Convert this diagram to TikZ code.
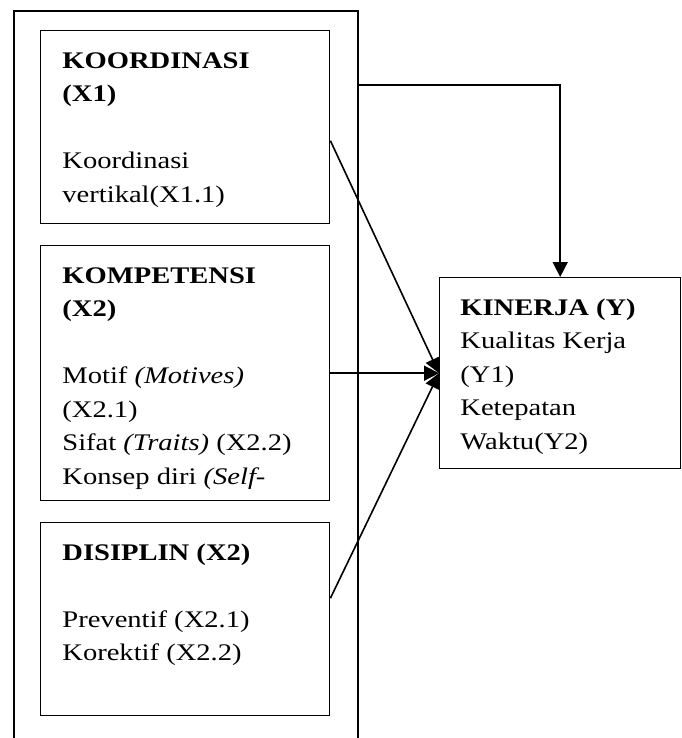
\documentclass[tikz,border=0pt]{standalone}
\usepackage{fontspec}
\setmainfont[FakeStretch=1.2]{Liberation Serif}
\usepackage{tikz}
\usetikzlibrary{arrows.meta, positioning, calc}

\begin{document}
\begin{tikzpicture}[
    x=0.5pt, y=-0.5pt,
    frame/.style={rectangle, draw, line width=0.9pt, anchor=north west, inner sep=0pt},
    varbox/.style={rectangle, draw, line width=0.7pt, anchor=north west, inner sep=0pt},
    boxtext/.style={anchor=north west, inner sep=0pt, align=left,
                    font=\fontsize{11.9}{16.75}\selectfont},
    arrow/.style={-{Triangle[length=7.5pt, width=7.5pt]}, line width=0.8pt}
]
\clip (0,0) rectangle (681,738);

% outer frame, open at the bottom of the page
\node[frame, minimum width=172pt, minimum height=400pt] (outer) at (13,10) {};

% variable boxes
\node[varbox, minimum width=144.5pt, minimum height=96.5pt] (koor) at (40,30) {};
\node[varbox, minimum width=144.5pt, minimum height=127.5pt] (komp) at (40,245) {};
\node[varbox, minimum width=144.5pt, minimum height=96.5pt] (disi) at (40,522) {};
\node[varbox, minimum width=120.5pt, minimum height=95.5pt] (kin) at (439,277) {};

% texts
\node[boxtext] (koortext) at ([shift={(11pt,-7.25pt)}]koor.north west)
    {\strut\textbf{KOORDINASI}\\\textbf{(X1)}\\\strut\\Koordinasi\\vertikal(X1.1)};
\node[boxtext] (komptext) at ([shift={(11pt,-7.25pt)}]komp.north west)
    {\strut\textbf{KOMPETENSI}\\\textbf{(X2)}\\\strut\\Motif \textit{(Motives)}\\(X2.1)\\Sifat \textit{(Traits)} (X2.2)\\Konsep diri \textit{(Self-}};
\node[boxtext] (disitext) at ([shift={(11pt,-7.25pt)}]disi.north west)
    {\strut\textbf{DISIPLIN (X2)}\\\strut\\Preventif (X2.1)\\Korektif (X2.2)};
\node[boxtext] (kintext) at ([shift={(10.5pt,-7.25pt)}]kin.north west)
    {\strut\textbf{KINERJA (Y)}\\Kualitas Kerja\\(Y1)\\Ketepatan\\Waktu(Y2)};

% connectors
\draw[arrow] ([yshift=-37.5pt]outer.north east) -| (kin.north);
\draw[arrow] ([yshift=-6.75pt]koor.east) -- (kin.west);
\draw[arrow] (komp.east) -- (kin.west);
\draw[arrow] ([yshift=10.5pt]disi.east) -- (kin.west);
\end{tikzpicture}
\end{document}
